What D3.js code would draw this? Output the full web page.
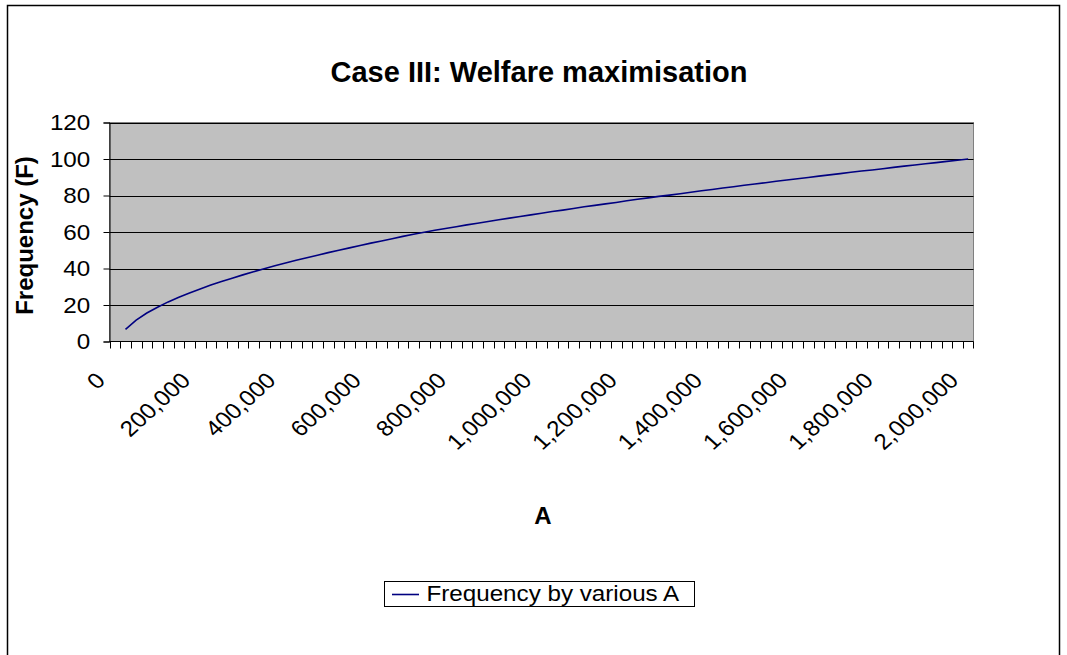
<!DOCTYPE html>
<html>
<head>
<meta charset="utf-8">
<script src="https://cdn.jsdelivr.net/npm/d3@7"></script>
<style>
  body { margin: 0; background: #fff; }
  text { font-family: "Liberation Sans", Arial, sans-serif; fill: #000; }
</style>
</head>
<body>
<div id="chart"></div>
<script>
// categories (A) and series values
const aValues = [0, 25000, 50000, 75000, 100000, 125000, 150000, 175000, 200000, 225000,
  250000, 275000, 300000, 325000, 350000, 375000, 400000, 425000, 450000, 475000,
  500000, 525000, 550000, 575000, 600000, 625000, 650000, 675000, 700000, 725000,
  750000, 775000, 800000, 825000, 850000, 875000, 900000, 925000, 950000, 975000,
  1000000, 1025000, 1050000, 1075000, 1100000, 1125000, 1150000, 1175000, 1200000, 1225000,
  1250000, 1275000, 1300000, 1325000, 1350000, 1375000, 1400000, 1425000, 1450000, 1475000,
  1500000, 1525000, 1550000, 1575000, 1600000, 1625000, 1650000, 1675000, 1700000, 1725000,
  1750000, 1775000, 1800000, 1825000, 1850000, 1875000, 1900000, 1925000, 1950000, 1975000,
  2000000];

const frequency = [null, 6.7, 11.7, 15.6, 18.8, 21.7, 24.3, 26.6, 28.8, 30.9,
  32.9, 34.7, 36.5, 38.2, 39.9, 41.5, 43.0, 44.5, 45.9, 47.3,
  48.7, 50.0, 51.3, 52.6, 53.9, 55.1, 56.3, 57.6, 58.8, 59.9,
  61.0, 61.9, 62.9, 63.9, 64.8, 65.8, 66.7, 67.6, 68.5, 69.4,
  70.3, 71.2, 72.0, 72.9, 73.8, 74.6, 75.4, 76.2, 77.1, 77.9,
  78.7, 79.5, 80.2, 81.0, 81.8, 82.6, 83.3, 84.1, 84.8, 85.6,
  86.3, 87.0, 87.8, 88.5, 89.2, 89.9, 90.6, 91.3, 92.0, 92.7,
  93.4, 94.0, 94.7, 95.4, 96.1, 96.7, 97.4, 98.0, 98.7, 99.3,
  100.0];

const xTickLabels = [0, 200000, 400000, 600000, 800000, 1000000, 1200000, 1400000, 1600000, 1800000, 2000000];
const yTicks = [0, 20, 40, 60, 80, 100, 120];

const width = 1067, height = 655;
const plot = { left: 109.5, right: 973.5, top: 122.5, bottom: 341.5 };
const sx = 1.1; // regular text in the reference is a little wide

const svg = d3.select('#chart')
  .append('svg')
  .attr('width', width)
  .attr('height', height);

// outer chart border
svg.append('rect')
  .attr('x', 7.5).attr('y', 5.5)
  .attr('width', 1052).attr('height', 670)
  .attr('fill', 'none')
  .attr('stroke', '#000')
  .attr('stroke-width', 1.5);

const x = d3.scaleBand()
  .domain(aValues)
  .range([plot.left, plot.right])
  .padding(0);

const y = d3.scaleLinear()
  .domain([0, 120])
  .range([plot.bottom, plot.top]);

// plot background
svg.append('rect')
  .attr('x', plot.left).attr('y', plot.top)
  .attr('width', plot.right - plot.left)
  .attr('height', plot.bottom - plot.top)
  .attr('fill', '#c0c0c0')
  .attr('stroke', '#808080');

// gridlines
svg.append('g')
  .selectAll('line')
  .data(yTicks.filter(d => d > 0))
  .enter().append('line')
  .attr('x1', plot.left).attr('x2', plot.right)
  .attr('y1', d => Math.round(y(d)) + 0.5)
  .attr('y2', d => Math.round(y(d)) + 0.5)
  .attr('stroke', '#000');

// y axis
const yAxis = svg.append('g')
  .attr('transform', `translate(${plot.left},0)`)
  .call(d3.axisLeft(y).tickValues(yTicks).tickSize(6).tickPadding(11.5));
yAxis.select('.domain').attr('stroke', '#000');
yAxis.selectAll('.tick line').attr('stroke', '#000');
yAxis.selectAll('.tick text')
  .attr('font-size', 22)
  .attr('font-family', '"Liberation Sans", Arial, sans-serif')
  .attr('fill', '#000')
  .attr('transform', `scale(${sx},1)`);

// x axis line and ticks at category boundaries
const xg = svg.append('g');
xg.append('line')
  .attr('x1', plot.left).attr('x2', plot.right)
  .attr('y1', plot.bottom).attr('y2', plot.bottom)
  .attr('stroke', '#000');

const bounds = aValues.map(d => x(d)).concat([x(aValues[aValues.length - 1]) + x.bandwidth()]);
xg.selectAll('.xtick')
  .data(bounds)
  .enter().append('line')
  .attr('class', 'xtick')
  .attr('x1', d => Math.round(d) + 0.5).attr('x2', d => Math.round(d) + 0.5)
  .attr('y1', plot.bottom).attr('y2', plot.bottom + 7)
  .attr('stroke', '#000');

xg.selectAll('.xlabel')
  .data(xTickLabels)
  .enter().append('text')
  .attr('class', 'xlabel')
  .attr('font-size', 22)
  .attr('text-anchor', 'end')
  .attr('dy', '0.35em')
  .attr('transform', d => `translate(${x(d) + x.bandwidth() / 2 - 14.4},${plot.bottom + 34.8}) scale(${sx},1) rotate(-45)`)
  .text(d3.format(','));

// the series line
const line = d3.line()
  .defined((d, i) => frequency[i] !== null)
  .x(d => x(d) + x.bandwidth() / 2)
  .y((d, i) => y(frequency[i]));

svg.append('path')
  .datum(aValues)
  .attr('d', line)
  .attr('fill', 'none')
  .attr('stroke', '#000080')
  .attr('stroke-width', 1.6);

// titles
svg.append('text')
  .attr('x', 539).attr('y', 82)
  .attr('text-anchor', 'middle')
  .attr('font-size', 29)
  .attr('font-weight', 'bold')
  .text('Case III: Welfare maximisation');

svg.append('text')
  .attr('x', 543).attr('y', 524)
  .attr('text-anchor', 'middle')
  .attr('font-size', 24)
  .attr('font-weight', 'bold')
  .text('A');

svg.append('text')
  .attr('transform', 'translate(33,235.5) rotate(-90)')
  .attr('text-anchor', 'middle')
  .attr('font-size', 24)
  .attr('font-weight', 'bold')
  .text('Frequency (F)');

// legend
const legend = svg.append('g');
legend.append('rect')
  .attr('x', 384.5).attr('y', 581.5)
  .attr('width', 310).attr('height', 25)
  .attr('fill', '#fff')
  .attr('stroke', '#000');
legend.append('line')
  .attr('x1', 392).attr('x2', 419)
  .attr('y1', 594.5).attr('y2', 594.5)
  .attr('stroke', '#000080')
  .attr('stroke-width', 1.6);
legend.append('text')
  .attr('transform', `translate(426.5,601) scale(${sx},1)`)
  .attr('font-size', 22)
  .text('Frequency by various A');
</script>
</body>
</html>
